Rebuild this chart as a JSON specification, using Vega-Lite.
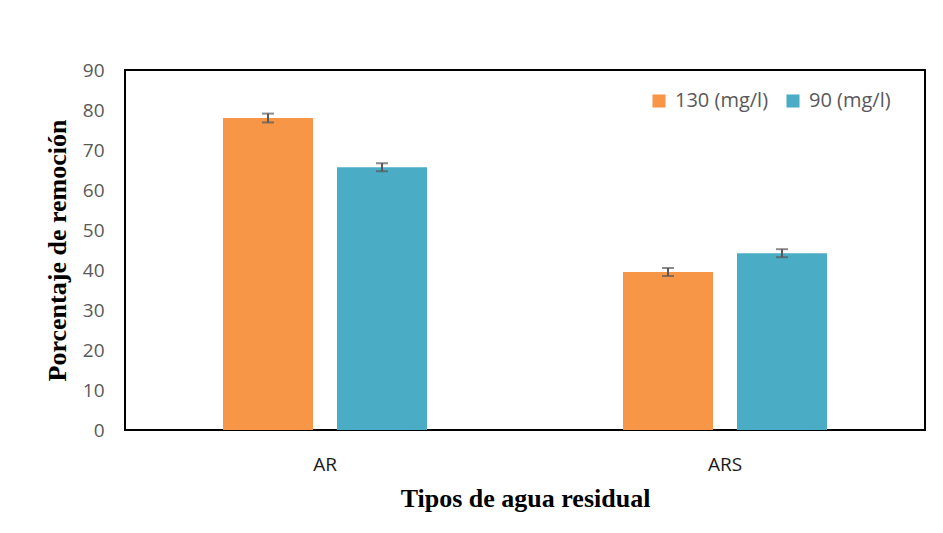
{
  "$schema": "https://vega.github.io/schema/vega-lite/v6.json",
  "width": 800,
  "height": 360,
  "autosize": {"type": "none"},
  "padding": {"left": 125, "top": 70, "right": 18, "bottom": 103},
  "background": "white",
  "config": {
    "view": {"stroke": "#000000", "strokeWidth": 2},
    "font": "Open Sans",
    "axisY": {
      "labelOverlap": false,
      "tickCount": 10,
      "values": [0, 10, 20, 30, 40, 50, 60, 70, 80, 90],
      "labelFont": "Open Sans",
      "labelFontSize": 19,
      "labelColor": "#595959",
      "labelPadding": 21,
      "ticks": false,
      "domain": false,
      "grid": false,
      "titleFont": "Liberation Serif",
      "titleFontSize": 26,
      "titleFontWeight": "bold",
      "titleColor": "#000000",
      "titlePadding": 12
    }
  },
  "data": {
    "values": [
      {"tipo": "AR", "conc": "130 (mg/l)", "val": 78.0, "lo": 76.9, "hi": 79.1},
      {"tipo": "AR", "conc": "90 (mg/l)", "val": 65.7, "lo": 64.7, "hi": 66.7},
      {"tipo": "ARS", "conc": "130 (mg/l)", "val": 39.5, "lo": 38.5, "hi": 40.5},
      {"tipo": "ARS", "conc": "90 (mg/l)", "val": 44.2, "lo": 43.2, "hi": 45.2}
    ]
  },
  "encoding": {
    "x": {
      "field": "tipo",
      "type": "nominal",
      "scale": {"paddingInner": 0.49, "paddingOuter": 0.245},
      "axis": {
        "title": "Tipos de agua residual",
        "titleFont": "Liberation Serif",
        "titleFontSize": 26,
        "titleFontWeight": "bold",
        "titleColor": "#000000",
        "titlePadding": 11,
        "labelAngle": 0,
        "labelFont": "Open Sans",
        "labelFontSize": 19,
        "labelColor": "#1a1a1a",
        "labelPadding": 25,
        "ticks": false,
        "domain": false
      }
    },
    "xOffset": {
      "field": "conc",
      "type": "nominal",
      "sort": ["130 (mg/l)", "90 (mg/l)"],
      "scale": {"paddingInner": 0.2105, "paddingOuter": 0}
    }
  },
  "layer": [
    {
      "mark": {"type": "bar"},
      "encoding": {
        "y": {
          "field": "val",
          "type": "quantitative",
          "scale": {"domain": [0, 90]},
          "axis": {
            "title": "Porcentaje de remoción",
            "values": [0, 10, 20, 30, 40, 50, 60, 70, 80, 90],
            "labelOverlap": false
          }
        },
        "color": {
          "field": "conc",
          "type": "nominal",
          "sort": ["130 (mg/l)", "90 (mg/l)"],
          "scale": {"domain": ["130 (mg/l)", "90 (mg/l)"], "range": ["#F79646", "#4BACC6"]},
          "legend": {
            "title": null,
            "orient": "none",
            "legendX": 524,
            "legendY": 21,
            "direction": "horizontal",
            "symbolType": "square",
            "symbolSize": 170,
            "symbolStrokeWidth": 0,
            "labelFont": "Open Sans",
            "labelFontSize": 20,
            "labelColor": "#595959",
            "labelOffset": 6,
            "labelLimit": 300,
            "columnPadding": 14
          }
        }
      }
    },
    {
      "mark": {"type": "rule", "color": "#595959", "strokeWidth": 2},
      "encoding": {
        "y": {"field": "lo", "type": "quantitative", "axis": {"title": "Porcentaje de remoción", "values": [0, 10, 20, 30, 40, 50, 60, 70, 80, 90], "labelOverlap": false}},
        "y2": {"field": "hi"}
      }
    },
    {
      "mark": {"type": "tick", "color": "#595959", "thickness": 2, "size": 12, "orient": "horizontal"},
      "encoding": {
        "y": {"field": "lo", "type": "quantitative", "axis": {"title": "Porcentaje de remoción", "values": [0, 10, 20, 30, 40, 50, 60, 70, 80, 90], "labelOverlap": false}}
      }
    },
    {
      "mark": {"type": "tick", "color": "#595959", "thickness": 2, "size": 12, "orient": "horizontal"},
      "encoding": {
        "y": {"field": "hi", "type": "quantitative", "axis": {"title": "Porcentaje de remoción", "values": [0, 10, 20, 30, 40, 50, 60, 70, 80, 90], "labelOverlap": false}}
      }
    }
  ]
}
